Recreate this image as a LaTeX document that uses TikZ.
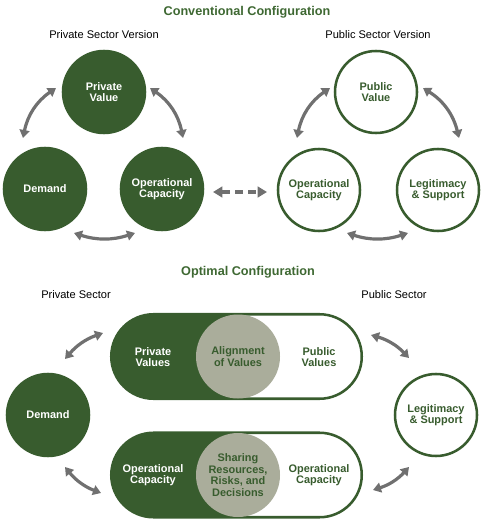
\documentclass[tikz,border=0pt]{standalone}
\usepackage{fontspec}
\setmainfont{Liberation Sans}
\usetikzlibrary{arrows.meta,shapes.misc}
\definecolor{dkg}{RGB}{56,92,46}
\definecolor{ttl}{RGB}{62,104,50}
\definecolor{sage}{RGB}{170,173,155}
\definecolor{arrg}{RGB}{112,112,112}
\begin{document}
\begin{tikzpicture}[x=0.75pt,y=-0.75pt,
 every node/.style={font=\fontsize{8.2}{8.7}\selectfont\bfseries, align=center, inner sep=0pt},
 fillc/.style={circle, minimum size=82*0.75pt, fill=dkg, draw=dkg, line width=1.9pt, text=white},
 openc/.style={circle, minimum size=82*0.75pt, fill=white, draw=dkg, line width=1.9pt, text=dkg},
 ttlstyle/.style={font=\fontsize{9.5}{11}\selectfont\bfseries, text=ttl},
 sect/.style={font=\fontsize{8.3}{10}\selectfont, text=black},
 dbl/.style={draw=arrg, line width=2.4pt, {Triangle[length=6pt,width=7.5pt]}-{Triangle[length=6pt,width=7.5pt]}},
 dsh/.style={draw=arrg, line width=2.6pt, dash pattern=on 6pt off 4pt, {Triangle[length=7pt,width=8pt]}-{Triangle[length=7pt,width=8pt]}},
 pill/.style={rounded rectangle, minimum width=250.5*0.75pt, minimum height=84.5*0.75pt, draw=dkg, line width=1.9pt, fill=white,
   path picture={\fill[dkg] (path picture bounding box.south west) rectangle ([xshift=1pt]path picture bounding box.north);}},
 midc/.style={circle, minimum size=84*0.75pt, fill=sage, text=dkg},
]
\useasboundingbox (0,0) rectangle (482,524);

% ---------- Conventional configuration ----------
\node[ttlstyle] (t1) at (247,12) {Conventional Configuration};
\node[sect] (s1) at (104,35) {Private Sector Version};
\node[sect] (s2) at (378,35) {Public Sector Version};

\node[fillc] (pv) at (104,92) {Private\\Value};
\node[fillc] (dem) at (45,189) {Demand};
\node[fillc] (oc1) at (162,189) {Operational\\Capacity};

\node[openc] (pub) at (376,92) {Public\\Value};
\node[openc] (oc2) at (319,190) {Operational\\Capacity};
\node[openc] (leg) at (438,190) {Legitimacy\\\& Support};

\coordinate (a1) at (23,138);  \coordinate (a2) at (56,88);
\coordinate (b1) at (150,88);  \coordinate (b2) at (183,138);
\coordinate (c1) at (74,233);  \coordinate (c2) at (135,233);
\draw[dbl] (a1) to[bend left=22] (a2);
\draw[dbl] (b1) to[bend left=22] (b2);
\draw[dbl] (c1) to[bend right=18] (c2);

\coordinate (d1) at (297,138); \coordinate (d2) at (330,88);
\coordinate (e1) at (423,88);  \coordinate (e2) at (459,138);
\coordinate (f1) at (347,233); \coordinate (f2) at (408,233);
\draw[dbl] (d1) to[bend left=22] (d2);
\draw[dbl] (e1) to[bend left=22] (e2);
\draw[dbl] (f1) to[bend right=18] (f2);

\coordinate (g1) at (213,192); \coordinate (g2) at (267,192);
\draw[dsh] (g1) -- (g2);

% ---------- Optimal configuration ----------
\node[ttlstyle] (t2) at (248,272) {Optimal Configuration};
\node[sect] (s3) at (76,295) {Private Sector};
\node[sect] (s4) at (394,295) {Public Sector};

\node[pill] (p1) at (236.5,356.5) {};
\node[midc] (m1) at (238,356.5) {Alignment\\of Values};
\node[text=white] (pvs) at (153,357) {Private\\Values};
\node[text=dkg] (pus) at (319,357) {Public\\Values};

\node[pill] (p2) at (236.5,475) {};
\node[midc] (m2) at (238,475) {Sharing\\Resources,\\Risks, and\\Decisions};
\node[text=white] (ocl) at (153,475) {Operational\\Capacity};
\node[text=dkg] (ocr) at (319,475) {Operational\\Capacity};

\node[fillc] (dem2) at (48,415) {Demand};
\node[openc] (leg2) at (436,415) {Legitimacy\\\& Support};

\coordinate (h1) at (65,359);  \coordinate (h2) at (103,333);
\coordinate (i1) at (65,467);  \coordinate (i2) at (101,493);
\coordinate (j1) at (371,335); \coordinate (j2) at (409,358);
\coordinate (k1) at (409,467); \coordinate (k2) at (373,490);
\draw[dbl] (h1) to[bend left=15] (h2);
\draw[dbl] (i1) to[bend right=15] (i2);
\draw[dbl] (j1) to[bend left=15] (j2);
\draw[dbl] (k1) to[bend left=15] (k2);
\end{tikzpicture}
\end{document}
